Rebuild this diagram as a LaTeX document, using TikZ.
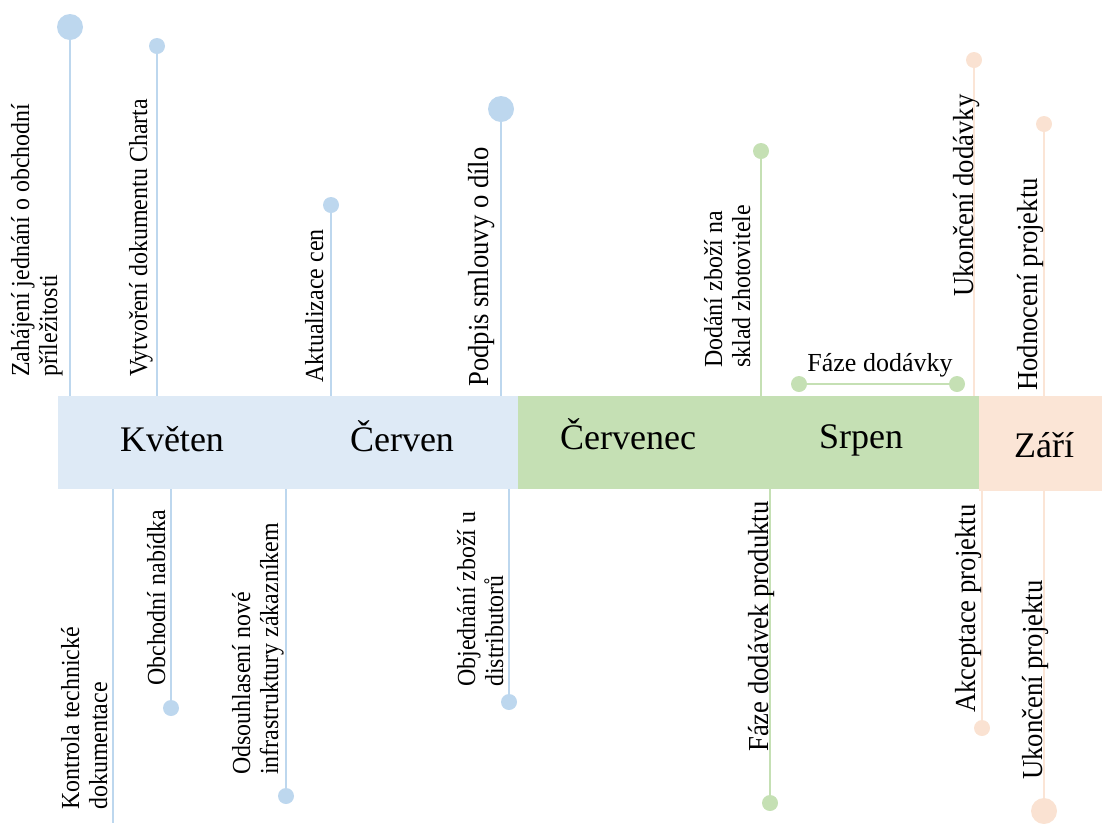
\documentclass[tikz,border=0pt]{standalone}
\usepackage{fontspec}
\setmainfont{Liberation Serif}
\newfontfamily\labelfont{Liberation Serif}[FakeStretch=0.92]
\definecolor{bluebar}{HTML}{DEEAF6}
\definecolor{bluedot}{HTML}{BDD7EE}
\definecolor{greenbar}{HTML}{C5E0B4}
\definecolor{orangebar}{HTML}{FBE5D6}
\definecolor{orangedot}{HTML}{FAE2D2}
\begin{document}
\begin{tikzpicture}[x=1pt,y=-1pt,
  phase/.style={inner sep=0, outer sep=0, anchor=north west},
  month/.style={font=\fontsize{36}{40}\selectfont, anchor=base, inner sep=0},
  ev/.style={font=\labelfont\fontsize{26}{28}\selectfont, rotate=90, anchor=base west, align=left, inner sep=0},
  evbig/.style={ev, font=\labelfont\fontsize{29}{31}\selectfont},
  stem/.style={line width=1.5pt},
  bigdot/.style={circle, inner sep=0, outer sep=0, minimum size=26pt},
  smalldot/.style={circle, inner sep=0, outer sep=0, minimum size=16pt}]
\useasboundingbox (0,0) rectangle (1102,823);

% timeline bar, one block per colour
\node[phase, fill=bluebar, minimum width=460pt, minimum height=93pt] (bblue) at (58,396) {};
\node[phase, fill=greenbar, minimum width=461pt, minimum height=93pt] (bgreen) at (518,396) {};
\node[phase, fill=orangebar, minimum width=124pt, minimum height=95pt] (borange) at (979,396) {};

% month names
\node[month] (m5) at (172,451) {Květen};
\node[month] (m6) at (402,451) {Červen};
\node[month] (m7) at (628,449) {Červenec};
\node[month] (m8) at (861,448) {Srpen};
\node[month] (m9) at (1044,457) {Září};

% milestones above the bar
\node[bigdot, fill=bluedot] (t1) at (70,27) {};
\node[smalldot, fill=bluedot] (t2) at (157,46) {};
\node[smalldot, fill=bluedot] (t3) at (331,205) {};
\node[bigdot, fill=bluedot] (t4) at (501,109) {};
\node[smalldot, fill=greenbar] (t5) at (761,151) {};
\node[smalldot, fill=orangedot] (t6) at (974,60) {};
\node[smalldot, fill=orangedot] (t7) at (1044,124) {};

\draw[stem, bluedot] (t1) -- (t1 |- bblue.north);
\draw[stem, bluedot] (t2) -- (t2 |- bblue.north);
\draw[stem, bluedot] (t3) -- (t3 |- bblue.north);
\draw[stem, bluedot] (t4) -- (t4 |- bblue.north);
\draw[stem, greenbar] (t5) -- (t5 |- bgreen.north);
\draw[stem, orangebar] (t6) -- (t6 |- borange.north);
\draw[stem, orangebar] (t7) -- (t7 |- borange.north);

% delivery phase span
\node[smalldot, fill=greenbar] (fa) at (799,384) {};
\node[smalldot, fill=greenbar] (fb) at (957,384) {};
\draw[stem, greenbar] (fa) -- (fb);
\node[font=\fontsize{26}{30}\selectfont, anchor=base, inner sep=0] (fl) at (880,371) {Fáze dodávky};

% milestones below the bar
\coordinate (b1) at (113,823);
\node[smalldot, fill=bluedot] (b2) at (171,708) {};
\node[smalldot, fill=bluedot] (b3) at (286,796) {};
\node[smalldot, fill=bluedot] (b4) at (509,702) {};
\node[smalldot, fill=greenbar] (b5) at (770,803) {};
\node[smalldot, fill=orangedot] (b6) at (982,728) {};
\node[bigdot, fill=orangedot] (b7) at (1044,811) {};

\draw[stem, bluedot] (b1 |- bblue.south) -- (b1);
\draw[stem, bluedot] (b2 |- bblue.south) -- (b2);
\draw[stem, bluedot] (b3 |- bblue.south) -- (b3);
\draw[stem, bluedot] (b4 |- bblue.south) -- (b4);
\draw[stem, greenbar] (b5 |- bgreen.south) -- (b5);
\draw[stem, orangebar] (b6 |- borange.south) -- (b6);
\draw[stem, orangebar] (b7 |- borange.south) -- (b7);

% labels, read bottom to top; each is placed by the baseline of its last line
\node[ev] (lt1) at (57,377) {Zahájení jednání o obchodní\\příležitosti};
\node[ev] (lt2) at (147,377) {Vytvoření dokumentu Charta};
\node[ev] (lt3) at (323,383) {Aktualizace cen};
\node[evbig] (lt4) at (488,387) {Podpis smlouvy o dílo};
\node[ev] (lt5) at (750,368) {Dodání zboží na\\sklad zhotovitele};
\node[evbig] (lt6) at (973,297) {Ukončení dodávky};
\node[evbig] (lt7) at (1037,391) {Hodnocení projektu};

\node[ev] (lb1) at (107,810) {Kontrola technické\\dokumentace};
\node[ev] (lb2) at (165,686) {Obchodní nabídka};
\node[ev] (lb3) at (278,775) {Odsouhlasení nové\\infrastruktury zákazníkem};
\node[ev] (lb4) at (503,687) {Objednání zboží u\\distributorů};
\node[evbig] (lb5) at (768,752) {Fáze dodávek produktu};
\node[evbig] (lb6) at (975,713) {Akceptace projektu};
\node[evbig] (lb7) at (1042,780) {Ukončení projektu};
\end{tikzpicture}
\end{document}
